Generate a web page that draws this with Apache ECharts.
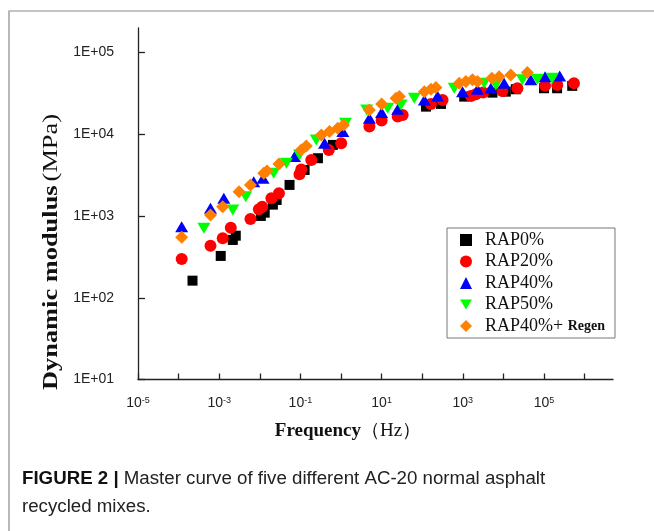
<!DOCTYPE html>
<html>
<head>
<meta charset="utf-8">
<script src="https://cdn.jsdelivr.net/npm/echarts@6/dist/echarts.min.js"></script>
<style>
html, body { margin: 0; padding: 0; background: #fff; }
#main { width: 654px; height: 531px; }
</style>
</head>
<body>
<div id="main"></div>
<script>
// [frequency Hz, dynamic modulus MPa]
var rap0 = [[2.2e-4,162],[1.09e-3,325],[2.16e-3,510],[2.56e-3,575],[1.06e-2,1003],[1.32e-2,1100],[2.1e-2,1380],[2.6e-2,1574],[5.4e-2,2404],[0.127,3664],[0.27,5100],[0.63,7420],[124,21830],[290,23550],[1082,28930],[5370,32380],[11450,33290],[20200,35620],[1.0e5,36620],[2.1e5,36620],[4.95e5,39170]];
var rap20 = [[1.19e-4,299],[6.1e-4,434],[1.22e-3,535],[1.93e-3,721],[5.88e-3,921],[9.5e-3,1211],[1.15e-2,1303],[1.93e-2,1652],[2.96e-2,1901],[9.5e-2,3250],[0.105,3700],[0.185,4860],[0.5,6440],[1.01,7780],[5.0,12440],[10,14720],[24.9,16480],[33,17270],[164,23550],[317,26370],[1581,29500],[2098,30960],[3170,32380],[9440,33950],[22100,36620],[1.06e5,39170],[2.12e5,40270],[5.46e5,42250]];
var rap40 = [[1.19e-4,741],[6.1e-4,1245],[1.3e-3,1652],[7.08e-3,2637],[1.2e-2,2902],[7.2e-2,5338],[0.394,7780],[1.11,10800],[5.0,15740],[10,18450],[24.9,20290],[113,26370],[239,29500],[985,33290],[2296,35620],[4900,36620],[10400,42250],[47100,46500],[1.06e5,50820],[2.43e5,51850]];
var rap50 = [[4.19e-4,710],[2.16e-3,1188],[4.51e-3,1727],[2.2e-2,3342],[4.51e-2,4426],[9.5e-2,5600],[0.246,8540],[1.29,13670],[4.3,19890],[14.1,20860],[30,22900],[64,27680],[615,36620],[3357,42250],[6500,40270],[29300,46380],[68400,47250],[1.6e5,48620]];
var regen = [[1.19e-4,550],[6.1e-4,1031],[1.22e-3,1303],[3.08e-3,1990],[5.88e-3,2404],[1.25e-2,3342],[1.5e-2,3564],[2.96e-2,4341],[0.105,6440],[0.14,7210],[0.327,9840],[0.521,10800],[0.83,11880],[1.15,13030],[5.0,19890],[10,23550],[22.7,27680],[27.4,28930],[113,33290],[164,35620],[218,37500],[817,42250],[1191,44190],[1730,46380],[2296,44190],[5190,48620],[7830,50820],[15200,53330],[38900,56890]];

var names = ['RAP0%', 'RAP20%', 'RAP40%', 'RAP50%', 'RAP40%+ Regen'];
var colors = ['#000000', '#ff0000', '#0000ff', '#00ff00', '#ff8000'];
var xTicks = [1e-5, 1e-4, 1e-3, 1e-2, 1e-1, 1, 10, 100, 1e3, 1e4, 1e5, 1e6];
var yTicks = [10, 100, 1e3, 1e4, 1e5];

var serif = '"Times New Roman", "Liberation Serif", serif';
var sans = 'Arial, "Liberation Sans", sans-serif';

var chart = echarts.init(document.getElementById('main'));

function scatter(i, data, symbol, size, rotate) {
  return {
    name: names[i],
    type: 'scatter',
    data: data,
    symbol: symbol,
    symbolSize: size,
    symbolRotate: rotate || 0,
    itemStyle: { color: colors[i], opacity: 1 },
    emphasis: { disabled: true }
  };
}

var option = {
  animation: false,
  backgroundColor: '#fff',
  grid: { left: 138, right: 41, top: 28, bottom: 151.5 },
  legend: {
    orient: 'vertical',
    left: 447,
    top: 228,
    padding: [3, 10, 3, 13],
    itemWidth: 12,
    itemHeight: 12,
    itemGap: 3.5,
    borderColor: '#777',
    borderWidth: 1,
    data: [
      { name: names[0] },
      { name: names[1] },
      { name: names[2] },
      { name: names[3], icon: 'path://M0,0L12,0L6,10Z' },
      { name: names[4] }
    ],
    formatter: function (n) {
      if (n === 'RAP40%+ Regen') return 'RAP40%+ {r|Regen}';
      return n;
    },
    textStyle: {
      fontFamily: serif, fontSize: 18, lineHeight: 18, color: '#111',
      padding: [0, 0, 0, 8],
      rich: { r: { fontFamily: serif, fontSize: 14, fontWeight: 'bold', color: '#111' } }
    }
  },
  xAxis: {
    type: 'log',
    logBase: 10,
    min: 1e-5,
    max: 5e6,
    interval: 1,
    name: '{b|Frequency}{n|（Hz）}',
    nameLocation: 'middle',
    nameGap: 42,
    nameTextStyle: {
      padding: [0, 55, 0, 0],
      rich: {
        b: { fontFamily: serif, fontSize: 19, fontWeight: 'bold', color: '#111' },
        n: { fontFamily: serif, fontSize: 19, color: '#111' }
      }
    },
    axisLine: { lineStyle: { color: '#222', width: 1.3 } },
    axisTick: { inside: true, length: 6, customValues: xTicks, lineStyle: { color: '#222', width: 1.3 } },
    splitLine: { show: false },
    axisLabel: {
      margin: 17,
      formatter: function (v) {
        var e = Math.round(Math.log10(v));
        if (Math.abs(Math.log10(v) - e) > 1e-6) return '';
        if ((e % 2 + 2) % 2 === 0) return '';
        return '{b|10}{s|' + e + '}';
      },
      rich: {
        b: { fontFamily: sans, fontSize: 14, color: '#222' },
        s: { fontFamily: sans, fontSize: 9, color: '#222', verticalAlign: 'top' }
      }
    }
  },
  yAxis: {
    type: 'log',
    logBase: 10,
    min: 10,
    max: 2e5,
    interval: 1,
    axisLine: { lineStyle: { color: '#222', width: 1.3 } },
    axisTick: { inside: true, length: 7, customValues: yTicks, lineStyle: { color: '#222', width: 1.3 } },
    splitLine: { show: false },
    axisLabel: {
      margin: 24,
      fontFamily: sans,
      fontSize: 14,
      color: '#222',
      formatter: function (v) {
        var e = Math.round(Math.log10(v));
        if (Math.abs(Math.log10(v) - e) > 1e-6) return '';
        return '1E+' + (e < 10 ? '0' : '') + e;
      }
    }
  },
  graphic: [
    {
      type: 'rect',
      shape: { x: 9, y: 11, width: 700, height: 600 },
      style: { fill: 'none', stroke: '#8a8a8a', lineWidth: 1.2 },
      silent: true
    },
    {
      // y axis title, stretched along its length like the source figure
      type: 'text',
      x: 51,
      y: 252,
      rotation: Math.PI / 2,
      scaleX: 1.2,
      style: {
        text: '{b|Dynamic modulus} {n|(MPa)}',
        align: 'center',
        verticalAlign: 'middle',
        rich: {
          b: { fontFamily: serif, fontSize: 22, fontWeight: 'bold', fill: '#111' },
          n: { fontFamily: serif, fontSize: 22, fill: '#111' }
        }
      },
      silent: true
    },
    {
      type: 'text',
      left: 22,
      top: 465,
      style: {
        text: '{b|FIGURE 2 |} Master curve of five different AC-20 normal asphalt\nrecycled mixes.',
        font: '18.7px "Liberation Sans", Arial, sans-serif',
        fill: '#222',
        lineHeight: 28,
        rich: {
          b: { font: 'bold 18.7px "Liberation Sans", Arial, sans-serif', fill: '#111' }
        }
      },
      silent: true
    }
  ],
  series: [
    scatter(0, rap0, 'rect', 10),
    scatter(1, rap20, 'circle', 12),
    scatter(2, rap40, 'triangle', [13, 11]),
    scatter(3, rap50, 'triangle', [13, 11], 180),
    scatter(4, regen, 'diamond', 13)
  ]
};

chart.setOption(option);
window.addEventListener('resize', function () {
  chart.resize();
});
</script>
</body>
</html>
